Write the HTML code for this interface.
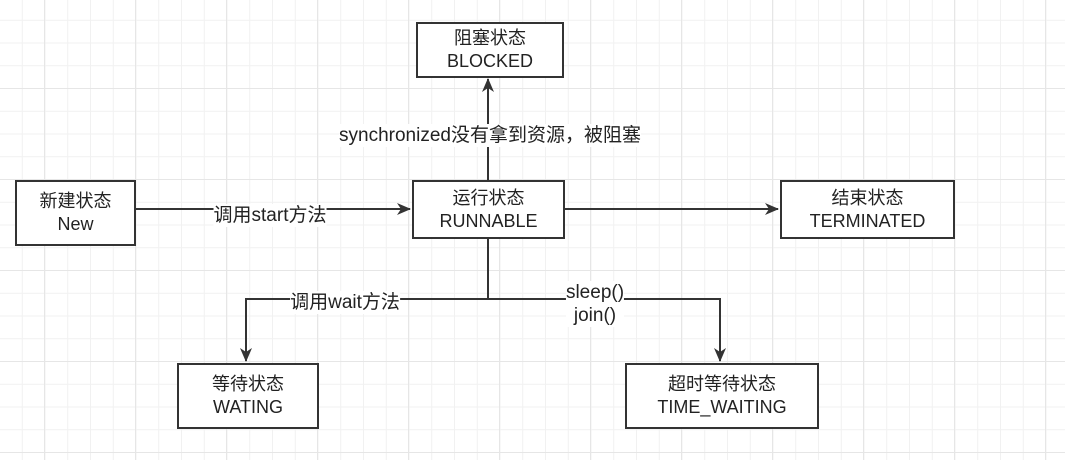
<!DOCTYPE html>
<html><head><meta charset="utf-8"><style>
body{margin:0;width:1065px;height:460px;overflow:hidden;background:#fff;
background-image:linear-gradient(#e6e6e6 1px,transparent 1px),linear-gradient(90deg,#e6e6e6 1px,transparent 1px),linear-gradient(#f1f1f1 1px,transparent 1px),linear-gradient(90deg,#f1f1f1 1px,transparent 1px);
background-size:91px 91px,91px 91px,22.75px 22.75px,22.75px 22.75px;
background-position:0 -3px,-47px 0,0 -3px,-1px 0;
font-family:"Liberation Sans","Noto Sans CJK SC",sans-serif;}
.b{position:absolute;box-sizing:border-box;border:2px solid #333;background:#fff;display:flex;align-items:center;justify-content:center;text-align:center;font-size:18px;line-height:23px;color:#222}
.l{position:absolute;background:#fff;font-size:19px;color:#222;line-height:23px;white-space:nowrap;text-align:center;transform:translateX(-50%)}
</style></head><body>
<svg width="1065" height="460" style="position:absolute;left:0;top:0">
<defs><marker id="a" markerWidth="14" markerHeight="14" refX="13" refY="7" orient="auto" markerUnits="userSpaceOnUse"><path d="M0,1 L14,7 L0,13 L4,7 z" fill="#333"/></marker></defs>
<g stroke="#333" stroke-width="2" fill="none">
<path d="M135,209 H410" marker-end="url(#a)"/>
<path d="M488,180 V79" marker-end="url(#a)"/>
<path d="M564,209 H778" marker-end="url(#a)"/>
<path d="M488,238 V299"/>
<path d="M488,299 H246 V361" marker-end="url(#a)"/>
<path d="M488,299 H720 V361" marker-end="url(#a)"/>
</g></svg>
<div class="b" style="left:416px;top:22px;width:148px;height:56px">阻塞状态<br>BLOCKED</div>
<div class="b" style="left:15px;top:180px;width:121px;height:66px">新建状态<br>New</div>
<div class="b" style="left:412px;top:180px;width:153px;height:59px">运行状态<br>RUNNABLE</div>
<div class="b" style="left:780px;top:180px;width:175px;height:59px">结束状态<br>TERMINATED</div>
<div class="b" style="left:177px;top:363px;width:142px;height:66px">等待状态<br>WATING</div>
<div class="b" style="left:625px;top:363px;width:194px;height:66px">超时等待状态<br>TIME_WAITING</div>
<div class="l" style="left:270px;top:204px">调用start方法</div>
<div class="l" style="left:490px;top:124px">synchronized没有拿到资源，被阻塞</div>
<div class="l" style="left:345px;top:291px">调用wait方法</div>
<div class="l" style="left:595px;top:281px">sleep()<br>join()</div>
</body></html>
